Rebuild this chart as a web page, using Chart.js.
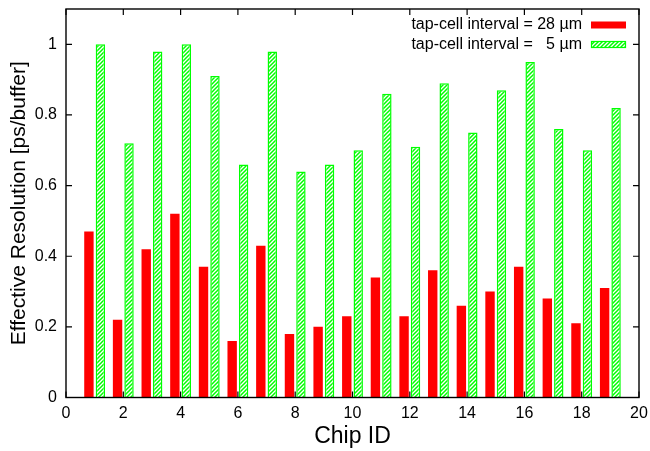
<!DOCTYPE html>
<html>
<head>
<meta charset="utf-8">
<script src="https://cdn.jsdelivr.net/npm/chart.js@4"></script>
<style>
  body { margin: 0; background: #fff; }
</style>
</head>
<body>
<canvas id="myChart" width="650" height="451"></canvas>
<script>
// chip ids and measured resolution (ps/buffer)
var chipIds = [1, 2, 3, 4, 5, 6, 7, 8, 9, 10, 11, 12, 13, 14, 15, 16, 17, 18, 19];
var res28um = [0.47, 0.22, 0.42, 0.52, 0.37, 0.16, 0.43, 0.18, 0.20, 0.23, 0.34, 0.23, 0.36, 0.26, 0.30, 0.37, 0.28, 0.21, 0.31];
var res5um = [1.00, 0.72, 0.98, 1.00, 0.91, 0.66, 0.98, 0.64, 0.66, 0.70, 0.86, 0.71, 0.89, 0.75, 0.87, 0.95, 0.76, 0.70, 0.82];
var xTicks = [0, 2, 4, 6, 8, 10, 12, 14, 16, 18, 20];
var yTicks = [0, 0.2, 0.4, 0.6, 0.8, 1];

var FONT = '"Liberation Sans", Arial, Helvetica, sans-serif';
var GREEN = '#00ff00';
var RED = '#ff0000';

var canvas = document.getElementById('myChart');
var ctx = canvas.getContext('2d');

// "////" hatch, 4px period
function makeHatch() {
    var c = document.createElement('canvas');
    c.width = 4; c.height = 4;
    var g = c.getContext('2d');
    g.fillStyle = '#fff';
    g.fillRect(0, 0, 4, 4);
    g.strokeStyle = GREEN;
    g.lineWidth = 1.5;
    g.beginPath();
    g.moveTo(0, 4); g.lineTo(4, 0);
    g.moveTo(-1, 1); g.lineTo(1, -1);
    g.moveTo(3, 5); g.lineTo(5, 3);
    g.stroke();
    return ctx.createPattern(c, 'repeat');
}
var hatch = makeHatch();

function pairs(vals) {
    return chipIds.map(function (c, i) { return { x: c, y: vals[i] }; });
}

// gnuplot style frame with inward ticks on all four sides
var framePlugin = {
    id: 'frame',
    afterDatasetsDraw: function (chart) {
        var a = chart.chartArea, c = chart.ctx;
        var xs = chart.scales.x, ys = chart.scales.y;
        c.save();
        c.strokeStyle = '#000';
        c.lineWidth = 1.2;
        c.beginPath();
        xTicks.forEach(function (v) {
            var px = xs.getPixelForValue(v);
            c.moveTo(px, a.bottom); c.lineTo(px, a.bottom - 6);
            c.moveTo(px, a.top); c.lineTo(px, a.top + 6);
        });
        yTicks.forEach(function (v) {
            var py = ys.getPixelForValue(v);
            c.moveTo(a.left, py); c.lineTo(a.left + 6, py);
            c.moveTo(a.right, py); c.lineTo(a.right - 6, py);
        });
        c.stroke();
        c.lineWidth = 1.4;
        c.strokeRect(a.left, a.top, a.right - a.left, a.bottom - a.top);
        c.restore();
    }
};

// legend: text right aligned, sample box on the right
var keyPlugin = {
    id: 'key',
    afterDraw: function (chart) {
        var c = chart.ctx;
        var a = chart.chartArea;
        c.save();
        c.font = '16px ' + FONT;
        c.textAlign = 'right';
        c.textBaseline = 'middle';
        c.fillStyle = '#000';
        chart.data.datasets.forEach(function (ds, i) {
            var y = a.top + 16 + i * 19.5;
            c.fillText(ds.label, a.right - 57, y);
            c.fillStyle = ds.backgroundColor;
            c.fillRect(a.right - 48, y - 3.5, 35, 7);
            if (ds.borderWidth) {
                c.strokeStyle = ds.borderColor;
                c.lineWidth = 1.2;
                c.strokeRect(a.right - 47.5, y - 3, 34, 6);
            }
            c.fillStyle = '#000';
        });
        c.restore();
    }
};

var myChart = new Chart(ctx, {
    type: 'bar',
    data: {
        datasets: [{
            label: 'tap-cell interval = 28 \u00b5m',
            data: pairs(res28um),
            backgroundColor: RED,
            borderWidth: 0
        }, {
            label: 'tap-cell interval =   5 \u00b5m',
            data: pairs(res5um),
            backgroundColor: hatch,
            borderColor: GREEN,
            borderWidth: 1.5
        }]
    },
    options: {
        responsive: false,
        animation: false,
        categoryPercentage: 0.8,
        barPercentage: 0.82,
        layout: { padding: { top: 9, right: 11, left: 0, bottom: 0 } },
        plugins: {
            legend: { display: false },
            tooltip: { enabled: false }
        },
        scales: {
            x: {
                type: 'linear',
                min: 0,
                max: 20,
                offset: false,
                grid: { display: false, offset: false, drawTicks: false },
                border: { display: false },
                afterBuildTicks: function (s) { s.ticks = xTicks.map(function (v) { return { value: v }; }); },
                afterFit: function (s) { s.height = 53.5; s.paddingLeft = 0; s.paddingRight = 0; },
                ticks: {
                    color: '#000',
                    padding: 6,
                    maxRotation: 0,
                    font: { family: FONT, size: 16 },
                    callback: function (v) { return String(v); }
                },
                title: {
                    display: true,
                    text: 'Chip ID',
                    color: '#000',
                    padding: { top: 0, bottom: 1 },
                    font: { family: FONT, size: 23 }
                }
            },
            y: {
                min: 0,
                max: 1.1,
                grid: { display: false, drawTicks: false },
                border: { display: false },
                afterBuildTicks: function (s) { s.ticks = yTicks.map(function (v) { return { value: v }; }); },
                afterFit: function (s) { s.width = 66; s.paddingTop = 0; s.paddingBottom = 0; },
                ticks: {
                    color: '#000',
                    padding: 9,
                    font: { family: FONT, size: 16 },
                    callback: function (v) { return String(Math.round(v * 10) / 10); }
                },
                title: {
                    display: true,
                    text: 'Effective Resolution [ps/buffer]',
                    color: '#000',
                    padding: { top: 7, bottom: 0 },
                    font: { family: FONT, size: 21 }
                }
            }
        }
    },
    plugins: [framePlugin, keyPlugin]
});
</script>
</body>
</html>
